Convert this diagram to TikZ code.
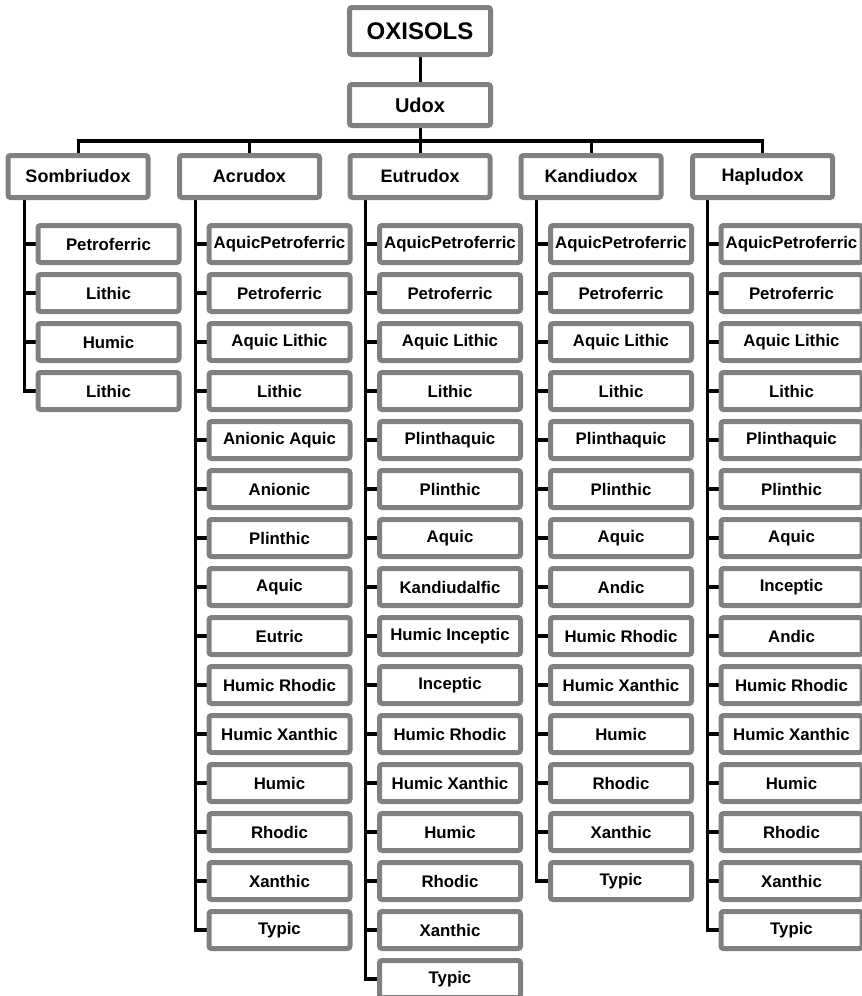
\documentclass[tikz,border=0pt]{standalone}
\usepackage{fontspec}
\setmainfont{Liberation Sans}
\usetikzlibrary{calc}
\definecolor{boxgray}{RGB}{128,128,128}
\pgfdeclarelayer{background}
\pgfsetlayers{background,main}
\newcommand\leafcol[5]{%
  \foreach \lab [count=\i] in {#4} {
    \node[leafbox] (#1\i) at (#2+84.5, 244+49*\i-49) {\lab};
    \begin{pgfonlayer}{background}
      \draw[stubline] (#1\i.west) -- (#1\i.west -| #1t);
    \end{pgfonlayer}
  }
  \begin{pgfonlayer}{background}
    \draw[trunkline] (#3.south -| #1t) |- (#1#5.west);
  \end{pgfonlayer}
}
\begin{document}
\begin{tikzpicture}[x=1pt,y=-1pt,
  boxbase/.style={draw=boxgray, line width=5pt, fill=white, rounded corners=2.5pt, inner sep=0pt, text=black},
  topbox/.style={boxbase, minimum width=141pt, minimum height=47pt, font=\bfseries\fontsize{24}{26}\selectfont},
  udoxbox/.style={boxbase, minimum width=141pt, minimum height=41pt, font=\bfseries\fontsize{20}{22}\selectfont},
  subbox/.style={boxbase, minimum width=140pt, minimum height=42pt, font=\bfseries\fontsize{18}{20}\selectfont},
  leafbox/.style={boxbase, minimum width=141pt, minimum height=37pt, font=\bfseries\fontsize{16.8}{18}\selectfont},
  trunkline/.style={draw=black, line width=3pt},
  stubline/.style={draw=black, line width=4.5pt},
  barline/.style={draw=black, line width=4.5pt},
]
\useasboundingbox (0,0) rectangle (862,996);

\node[topbox] (ox) at (420,31) {OXISOLS};
\node[udoxbox] (udox) at (420,105) {Udox};

\node[subbox] (S) at (78,176.5) {Sombriudox};
\node[subbox] (A) at (249.5,176.5) {Acrudox};
\node[subbox] (E) at (420,176.5) {Eutrudox};
\node[subbox] (K) at (591,176.5) {Kandiudox};
\node[subbox] (H) at (762.5,176.5) {Hapludox};

\coordinate (bar) at (420,141);
\begin{pgfonlayer}{background}
  \draw[trunkline] (ox) -- (udox);
  \draw[trunkline] (udox) -- (bar);
  \foreach \n in {S,A,E,K,H} { \draw[trunkline] (\n) -- (\n.north |- bar); }
  \draw[barline] ($(S.north |- bar)+(-1.5,0)$) -- ($(H.north |- bar)+(1.5,0)$);
\end{pgfonlayer}

\coordinate (St) at (24,0);
\coordinate (At) at (195,0);
\coordinate (Et) at (365.5,0);
\coordinate (Kt) at (536.5,0);
\coordinate (Ht) at (707,0);

\leafcol{S}{24}{S}{Petroferric,Lithic,Humic,Lithic}{4}
\leafcol{A}{195}{A}{AquicPetroferric,Petroferric,Aquic Lithic,Lithic,Anionic Aquic,Anionic,Plinthic,Aquic,Eutric,Humic Rhodic,Humic Xanthic,Humic,Rhodic,Xanthic,Typic}{15}
\leafcol{E}{365.5}{E}{AquicPetroferric,Petroferric,Aquic Lithic,Lithic,Plinthaquic,Plinthic,Aquic,Kandiudalfic,Humic Inceptic,Inceptic,Humic Rhodic,Humic Xanthic,Humic,Rhodic,Xanthic,Typic}{16}
\leafcol{K}{536.5}{K}{AquicPetroferric,Petroferric,Aquic Lithic,Lithic,Plinthaquic,Plinthic,Aquic,Andic,Humic Rhodic,Humic Xanthic,Humic,Rhodic,Xanthic,Typic}{14}
\leafcol{H}{707}{H}{AquicPetroferric,Petroferric,Aquic Lithic,Lithic,Plinthaquic,Plinthic,Aquic,Inceptic,Andic,Humic Rhodic,Humic Xanthic,Humic,Rhodic,Xanthic,Typic}{15}
\end{tikzpicture}
\end{document}
